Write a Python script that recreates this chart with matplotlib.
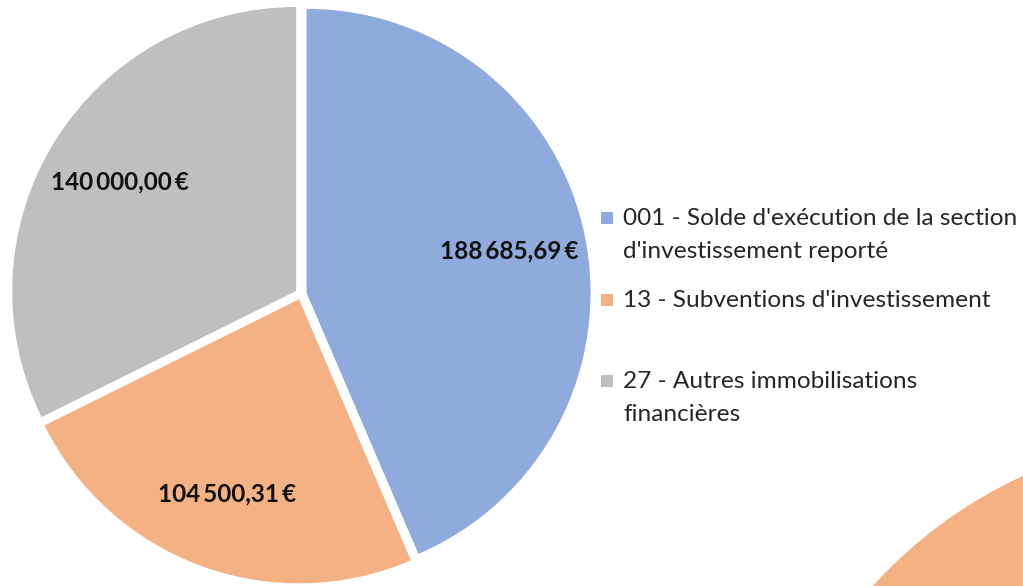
import matplotlib.pyplot as plt
from matplotlib.patches import Rectangle

# Données : répartition des recettes d'investissement
categories = [
    "001 - Solde d'exécution de la section\nd'investissement reporté",
    "13 - Subventions d'investissement",
    "27 - Autres immobilisations\nfinancières",
]
montants = [188685.69, 104500.31, 140000.00]
couleurs = ["#8FAADC", "#F4B183", "#BFBFBF"]

# second graphique coupé en bas à droite (une seule part visible)
autre_montants = [1]
autre_couleurs = ["#F4B183"]

W, H = 1023, 586


def fmt_euro(v):
    s = f"{v:,.2f}".replace(",", "\u2009").replace(".", ",")
    return s + "\u2009€"


fig = plt.figure(figsize=(W / 100, H / 100), dpi=100)
fig.patch.set_facecolor("white")

# camembert principal : centre (301, 292) px, rayon 284 px
cx, cy, R = 301, 292, 284
half = 1.1 * R
ax = fig.add_axes([(cx - half) / W, (cy - half) / H, 2 * half / W, 2 * half / H])
wedges, texts, autotexts = ax.pie(
    montants,
    colors=couleurs,
    startangle=90,
    counterclock=False,
    explode=[0.02] * len(montants),
    autopct="%1.1f",
    pctdistance=0.73,
    wedgeprops=dict(linewidth=0),
    textprops=dict(fontsize=17.5, fontweight="bold", family=["Lato", "DejaVu Sans"],
                   color="#111111"),
)
for t, v in zip(autotexts, montants):
    t.set_text(fmt_euro(v))
ax.set_xlim(-1.1, 1.1)
ax.set_ylim(-1.1, 1.1)
ax.set_aspect("equal")
ax.axis("off")

# graphique voisin, partiellement visible
ox, oy, oR = 1218, -313, 466
ax2 = fig.add_axes([(ox - oR) / W, (oy - oR) / H, 2 * oR / W, 2 * oR / H])
ax2.pie(autre_montants, colors=autre_couleurs, wedgeprops=dict(linewidth=0))
ax2.set_xlim(-1, 1)
ax2.set_ylim(-1, 1)
ax2.set_aspect("equal")
ax2.axis("off")

# légende manuelle (marqueur aligné sur la première ligne)
leg_y = [218, 300, 381]  # centre de la première ligne, px depuis le haut
line_h = 33
for lab, col, y in zip(categories, couleurs, leg_y):
    fig.add_artist(Rectangle((601 / W, (H - y - 6) / H), 12 / W, 12 / H,
                             transform=fig.transFigure, facecolor=col, edgecolor="none"))
    for j, line in enumerate(lab.split("\n")):
        fig.text(623 / W, (H - y - 7 - j * line_h) / H, line, fontsize=17.6,
                 family="Lato", color="#262626", va="baseline", ha="left")

fig.savefig("out.png", dpi=100)
